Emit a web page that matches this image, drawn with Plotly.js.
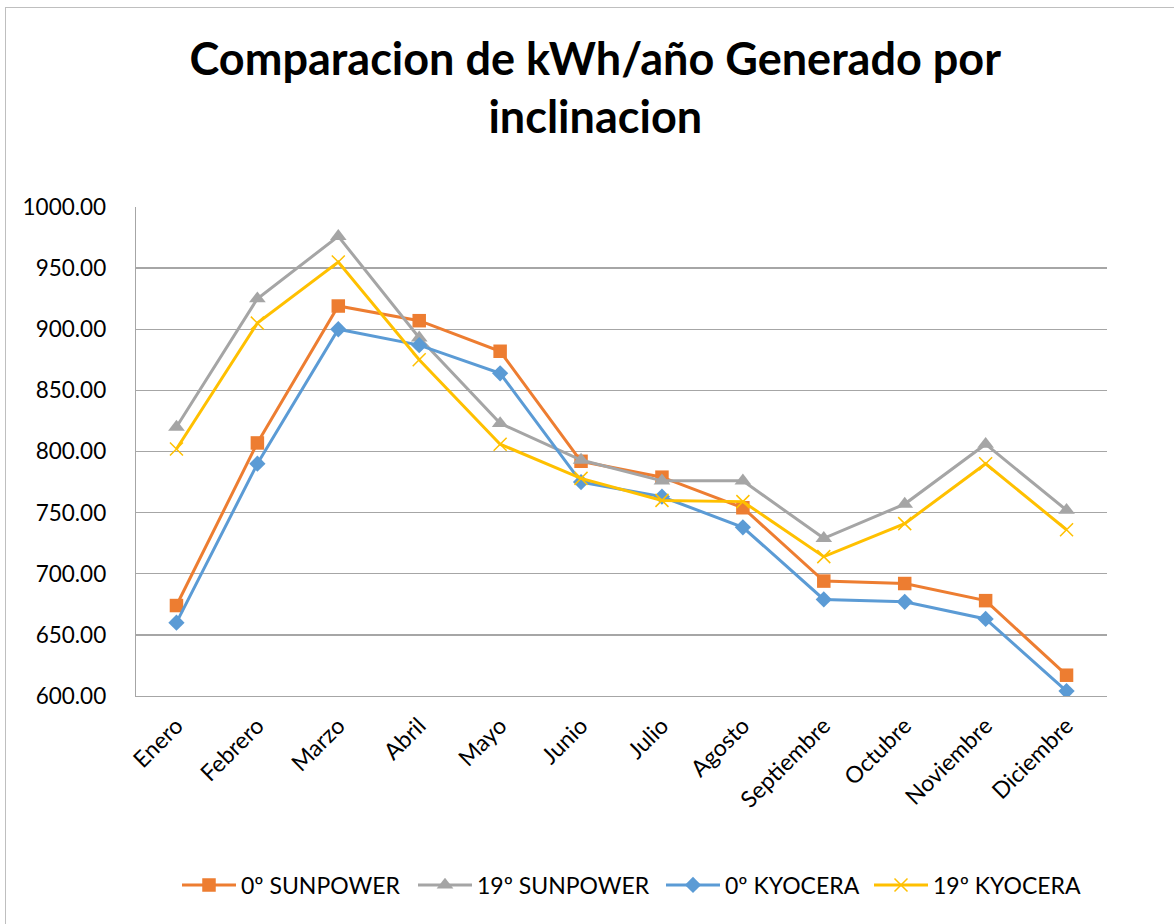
<!DOCTYPE html>
<html>
<head>
<meta charset="utf-8">
<script src="https://cdn.plot.ly/plotly-3.0.1.min.js"></script>
<style>
  html, body { margin: 0; padding: 0; background: #ffffff; overflow: hidden; }
  #chart { width: 1174px; height: 924px; }
  #frame { position: absolute; left: 5px; top: 7px; width: 1200px; height: 960px;
           border: 1px solid #bfbfbf; pointer-events: none; }
</style>
</head>
<body>
<div id="chart"></div>
<div id="frame"></div>
<script>
const months = ["Enero", "Febrero", "Marzo", "Abril", "Mayo", "Junio", "Julio",
                "Agosto", "Septiembre", "Octubre", "Noviembre", "Diciembre"];
const sunpower0  = [674, 807, 919, 907, 882, 792, 779, 754, 694, 692, 678, 617];
const sunpower19 = [820, 925, 976, 893, 823, 793, 776, 776, 729, 757, 806, 752];
const kyocera0   = [660, 790, 900, 887, 864, 775, 763, 738, 679, 677, 663, 604];
const kyocera19  = [802, 905, 955, 875, 806, 778, 760, 759, 714, 741, 790, 736];
const seriesNames = ["0º SUNPOWER", "19º SUNPOWER", "0º KYOCERA", "19º KYOCERA"];
const titleText = "Comparacion de kWh/año Generado por<br>inclinacion";

const FONT = "Lato, 'Open Sans', sans-serif";

function mk(name, y, color, symbol, size, open, legendId) {
  return {
    type: "scatter", mode: "lines+markers", name: name, x: months, y: y,
    legend: legendId,
    line: { color: color, width: 3 },
    marker: open
      ? { symbol: symbol, size: size, color: color, line: { color: color, width: 1.5 } }
      : { symbol: symbol, size: size, color: color, line: { width: 0 } }
  };
}

const data = [
  mk(seriesNames[0], sunpower0, "#ED7D31", "square", 13.5, false, "legend"),
  mk(seriesNames[1], sunpower19, "#A5A5A5", "triangle-up", 14.5, false, "legend2"),
  mk(seriesNames[2], kyocera0, "#5B9BD5", "diamond", 12.5, false, "legend3"),
  mk(seriesNames[3], kyocera19, "#FFC000", "x-thin-open", 13, true, "legend4")
];

function leg(px) {
  return {
    orientation: "h", x: px / 1174, xanchor: "left", xref: "container",
    y: 1 - 885 / 924, yanchor: "middle", yref: "container",
    font: { family: FONT, size: 23, color: "#000000" },
    itemwidth: 54, bgcolor: "rgba(0,0,0,0)"
  };
}

const layout = {
  width: 1174, height: 924,
  paper_bgcolor: "#ffffff", plot_bgcolor: "#ffffff",
  margin: { l: 136, r: 67, t: 207, b: 228 },
  font: { family: FONT, color: "#000000", size: 22 },
  title: {
    text: titleText,
    font: { family: FONT, size: 45, color: "#000000", weight: 700 },
    x: 0.473, xanchor: "center", xref: "paper",
    y: 0.919, yanchor: "top", yref: "container"
  },
  xaxis: {
    type: "category", range: [-0.5, 11.5],
    showgrid: false, zeroline: false,
    showline: true, linecolor: "#a6a6a6", linewidth: 1.3,
    ticks: "", tickangle: -45, ticklabelstandoff: 6,
    tickfont: { family: FONT, size: 23, color: "#000000" }
  },
  yaxis: {
    range: [600, 1000], dtick: 50, tick0: 600,
    tickformat: ".2f",
    showgrid: true, gridcolor: "#a6a6a6", gridwidth: 1.3,
    zeroline: false,
    showline: true, linecolor: "#a6a6a6", linewidth: 1.3,
    ticks: "", ticklabelstandoff: 24,
    tickfont: { family: FONT, size: 22.5, color: "#000000" }
  },
  showlegend: true,
  legend: leg(177),
  legend2: leg(413),
  legend3: leg(661),
  legend4: leg(869)
};

Plotly.newPlot("chart", data, layout, { displayModeBar: false, staticPlot: true });
</script>
</body>
</html>
